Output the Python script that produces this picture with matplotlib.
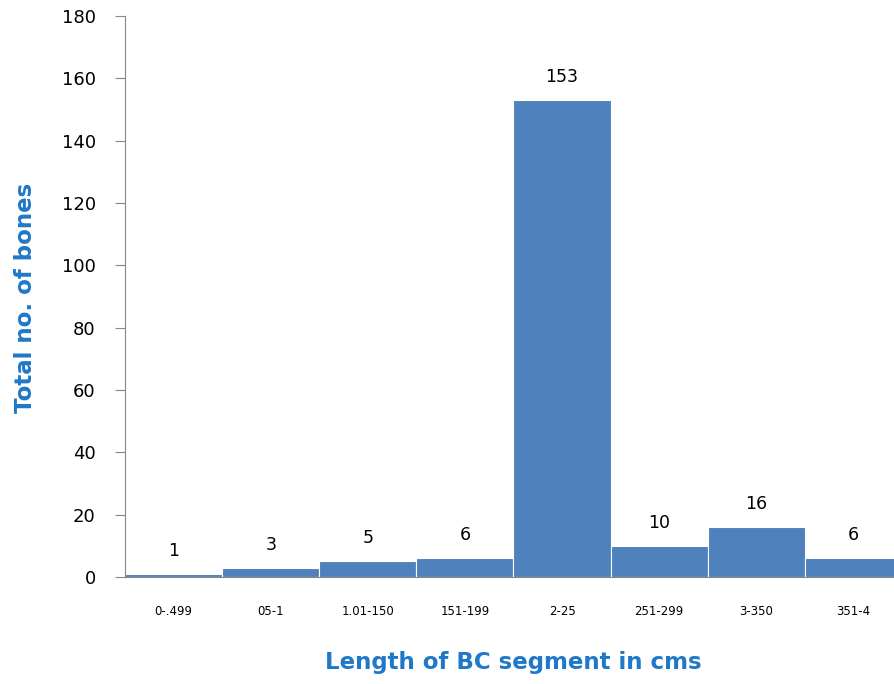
import matplotlib.pyplot as plt
import numpy as np

rangos = ['0-.499', '05-1', '1.01-150', '151-199', '2-25', '251-299', '3-350', '351-4']
huesos = [1, 3, 5, 6, 153, 10, 16, 6]

fig = plt.figure(figsize=(8.95, 6.84), dpi=100)
ax = fig.add_axes([0.1397, 0.1564, 0.868, 0.8202])

x = np.arange(len(rangos))
barras = ax.bar(x, huesos, width=1.0, color='#4F81BD', edgecolor='white', linewidth=0.8)

# etiquetas con el valor encima de cada barra
for xi, v in zip(x, huesos):
    ax.text(xi, v + 4.5, str(v), ha='center', va='bottom', fontsize=12.5, color='black')

ax.set_xlim(-0.5, len(rangos) - 0.5)
ax.set_ylim(0, 180)
ax.set_yticks(range(0, 181, 20))
ax.set_xticks(x)
ax.set_xticklabels(rangos, fontsize=8.5)
ax.tick_params(axis='x', length=0, pad=20)
ax.tick_params(axis='y', labelsize=13, length=7, color='#888888', pad=14)

for s in ['top', 'right']:
    ax.spines[s].set_visible(False)
ax.spines['left'].set_color('#888888')
ax.spines['bottom'].set_color('#888888')

fig.text(0.028, 0.564, 'Total no. of bones', rotation=90, ha='center', va='center',
         fontsize=16.5, fontweight='bold', color='#1F78C8')
fig.text(0.574, 0.032, 'Length of BC segment in cms', ha='center', va='center',
         fontsize=16.5, fontweight='bold', color='#1F78C8')

plt.savefig('out.png', dpi=100)
